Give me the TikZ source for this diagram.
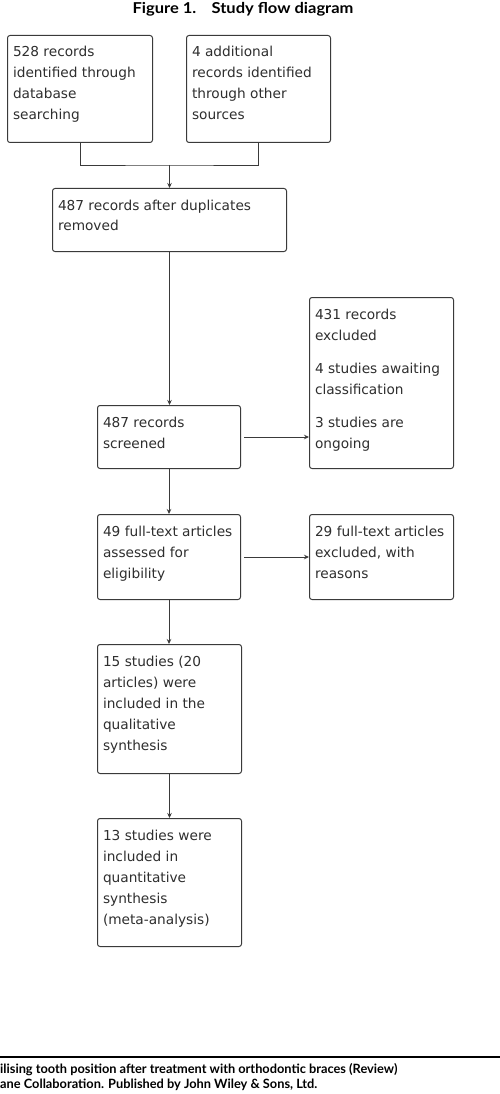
\documentclass[tikz,border=0pt]{standalone}
\usepackage{fontspec}
\setmainfont{DejaVu Sans}
\newfontfamily\gillfont{Lato}
\usetikzlibrary{arrows.meta}
\definecolor{linegray}{HTML}{3A3A3A}
\definecolor{textgray}{HTML}{2E2E2E}
\newcommand{\fbtext}[3]{\parbox[c][#2][t]{#1}{\raggedright\rule{0pt}{21.5pt}#3}}
\tikzset{
  fbox/.style={draw=linegray, line width=1pt, rounded corners=2.5pt, inner ysep=0pt, inner xsep=5.5pt, anchor=north west, text=textgray, font=\fontsize{13.7pt}{21pt}\selectfont},
  conn/.style={draw=linegray, line width=0.9pt},
  arr/.style={conn, -{Stealth[length=5pt,width=4.5pt]}},
  hdr/.style={font=\gillfont\bfseries\fontsize{15pt}{18pt}\selectfont, inner sep=0pt},
  ftr/.style={font=\gillfont\bfseries\fontsize{12.8pt}{15pt}\selectfont, inner sep=0pt, anchor=base west}
}
\begin{document}
\begin{tikzpicture}[x=1pt,y=-1pt]
\useasboundingbox (0,0) rectangle (500,1094);
\node[hdr, anchor=base] (title) at (243,13.3) {\scalebox{1.1}[1]{Figure 1.\hspace{0.6em} Study flow diagram}};

\node[fbox] (b1) at (7,35) {\fbtext{134pt}{107pt}{528 records\\identified through\\database\\searching}};
\node[fbox] (b2) at (186,35) {\fbtext{133pt}{107pt}{4 additional\\records identified\\through other\\sources}};
\node[fbox] (b3) at (52,188) {\fbtext{223pt}{63pt}{487 records after duplicates\\removed}};
\node[fbox] (b4) at (97,405) {\fbtext{132pt}{63pt}{487 records\\screened}};
\node[fbox] (b5) at (309,297) {\fbtext{133pt}{171pt}{431 records\\excluded\\[12pt]4 studies awaiting\\classification\\[12pt]3 studies are\\ongoing}};
\node[fbox] (b6) at (97,514) {\fbtext{132pt}{85pt}{49 full-text articles\\assessed for\\eligibility}};
\node[fbox] (b7) at (309,514) {\fbtext{133pt}{85pt}{29 full-text articles\\excluded, with\\reasons}};
\node[fbox] (b8) at (97,644) {\fbtext{133pt}{129pt}{15 studies (20\\articles) were\\included in the\\qualitative\\synthesis}};
\node[fbox] (b9) at (97,818) {\fbtext{133pt}{128pt}{13 studies were\\included in\\quantitative\\synthesis\\(meta-analysis)}};

\coordinate (m) at (169.5,165);
\draw[conn] (b1.south) |- (m) -| (b2.south);
\draw[arr] (m) -- (m |- b3.north);
\draw[arr] (b3.south) -- (b3.south |- b4.north);
\draw[arr] (b4.south) -- (b4.south |- b6.north);
\draw[arr] (b6.south) -- (b6.south |- b8.north);
\draw[arr] (b8.south) -- (b8.south |- b9.north);
\draw[arr, shorten <=3pt] (b4.east) -- (b4.east -| b5.west);
\draw[arr, shorten <=3pt] (b6.east) -- (b6.east -| b7.west);

\draw[black, line width=2pt] (0,1056.7) -- (500,1056.7);
\node[ftr] (f1) at (0,1073) {ilising tooth position after treatment with orthodontic braces (Review)};
\node[ftr] (f2) at (0,1088) {ane Collaboration. Published by John Wiley \& Sons, Ltd.};
\end{tikzpicture}
\end{document}
